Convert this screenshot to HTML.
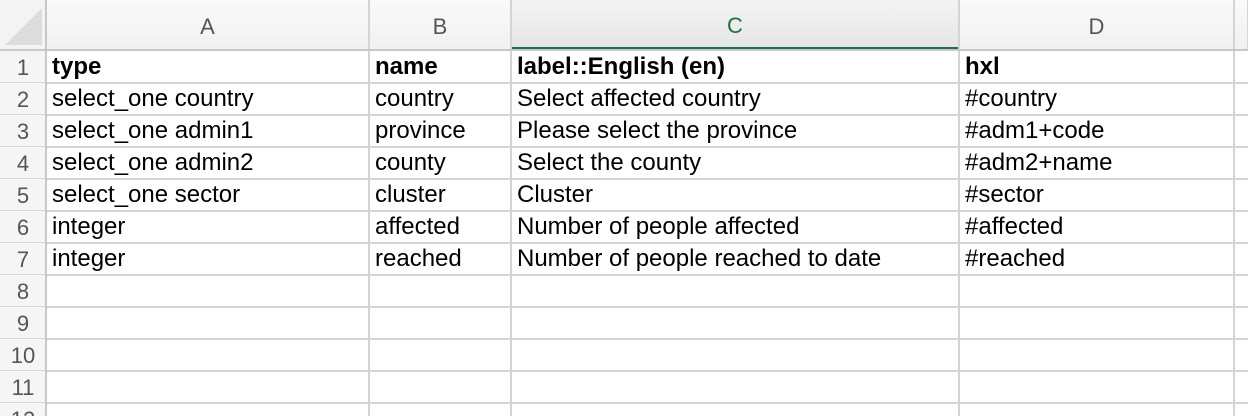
<!DOCTYPE html>
<html style="margin:0;width:1248px;height:416px;overflow:hidden"><head><meta charset="utf-8"><style>
body{margin:0;width:1248px;height:416px;overflow:hidden;background:#fff;font-family:"Liberation Sans",Arial,sans-serif;position:relative}
.h{position:absolute;top:0;height:50px;background:linear-gradient(#fafafa,#f0f0f0);border-right:1px solid #d6d6d6;color:#555;font-size:22px;line-height:54px;text-align:center;box-sizing:border-box}
.rn{position:absolute;left:0;width:46px;height:32px;background:#f5f5f5;color:#555;font-size:22px;line-height:34px;text-align:center}
.vl{position:absolute;top:0;height:416px;width:2px;background:#d4d4d4}
.hl{position:absolute;left:0;width:1248px;height:2px;background:#d4d4d4}
.c{position:absolute;font-size:24px;line-height:32px;color:#000;white-space:nowrap}
.b{font-weight:bold}
</style></head><body>
<div style="position:absolute;left:0;top:0;width:46px;height:50px;background:#f3f3f3"><div style="position:absolute;left:5px;top:8px;width:0;height:0;border-left:37px solid transparent;border-bottom:37px solid #dcdcdc"></div></div>
<div class="h" style="left:47px;width:322px">A</div>
<div class="h" style="left:370px;width:141px">B</div>
<div class="h" style="left:512px;width:447px;color:#1e7145;background:linear-gradient(#f3f3f3,#e6e6e6);border-bottom:3px solid #1e7145;line-height:51px">C</div>
<div class="h" style="left:960px;width:274px">D</div>
<div class="h" style="left:1235px;width:13px"></div>
<div id="rows"></div>
<div class="vl" style="left:45px;background:#c8c8c8"></div>
<div class="vl" style="left:368px;top:0"></div>
<div class="vl" style="left:510px"></div>
<div class="vl" style="left:958px"></div>
<div class="vl" style="left:1233px"></div>
<div class="hl" style="top:49px;background:#c8c8c8"></div>
<script>
const data=[["type","name","label::English (en)","hxl"],
["select_one country","country","Select affected country","#country"],
["select_one admin1","province","Please select the province","#adm1+code"],
["select_one admin2","county","Select the county","#adm2+name"],
["select_one sector","cluster","Cluster","#sector"],
["integer","affected","Number of people affected","#affected"],
["integer","reached","Number of people reached to date","#reached"]];
const xs=[52,375,517,965];
const root=document.getElementById('rows');
for(let r=0;r<12;r++){
 const top=51+r*32;
 const n=document.createElement('div');n.className='rn';n.style.top=top+'px';n.textContent=r+1;
 
 
 root.appendChild(n);
 const l=document.createElement('div');l.className='hl';l.style.top=(top+31)+'px';
 
 
 root.appendChild(l);
 if(data[r]) data[r].forEach((t,i)=>{
  const c=document.createElement('div');c.className='c'+(r==0?' b':'');
  c.style.left=xs[i]+'px';c.style.top=top+'px';c.textContent=t;
  
  
  root.appendChild(c);
 });
}
</script>
</body></html>
